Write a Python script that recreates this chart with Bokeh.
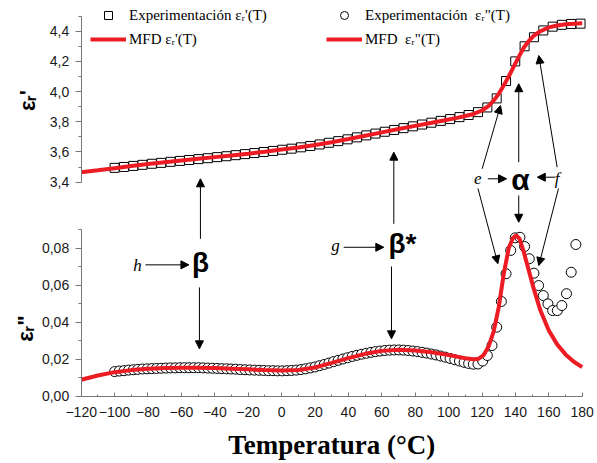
from math import pi
from bokeh.plotting import figure
from bokeh.models import (Range1d, LinearAxis, FixedTicker, SingleIntervalTicker,
                          Legend, LegendItem, Arrow, NormalHead, Label)
from bokeh.embed import file_html
from bokeh.resources import INLINE

# ---------------- data ----------------
# experimental eps' (squares)
temp_exp_real = [-100.0, -94.4, -88.8, -83.3, -77.7, -72.1, -66.5, -60.9, -55.4, -49.8,
                 -44.2, -38.6, -33.0, -27.5, -21.9, -16.3, -10.7, -5.1, 0.4, 6.0,
                 11.6, 17.2, 22.8, 28.3, 33.9, 39.5, 45.1, 50.7, 56.2, 61.8,
                 67.4, 73.0, 78.6, 84.1, 89.7, 95.3, 100.9, 106.5, 112.0, 117.6,
                 123.2, 128.8, 134.4, 139.9, 145.5, 151.1, 156.7, 162.3, 167.8, 173.4, 179.0]
eps_real_exp = [3.495, 3.501, 3.508, 3.515, 3.522, 3.528, 3.535, 3.541, 3.547, 3.553,
                3.559, 3.566, 3.572, 3.579, 3.586, 3.593, 3.600, 3.607, 3.615, 3.622,
                3.631, 3.640, 3.650, 3.661, 3.672, 3.684, 3.697, 3.710, 3.722, 3.734,
                3.746, 3.758, 3.770, 3.782, 3.794, 3.806, 3.818, 3.831, 3.845, 3.864,
                3.895, 3.955, 4.070, 4.200, 4.300, 4.360, 4.405, 4.430, 4.442, 4.448, 4.450]

# MFD fit eps'
temp_fit_real = [-120, -110, -100, -90, -80, -70, -60, -50, -40, -30, -20, -10, 0, 10, 20,
                 30, 40, 50, 60, 70, 80, 90, 100, 105, 110, 115, 120, 124, 127, 130,
                 133, 136, 139, 142, 145, 148, 151, 155, 160, 165, 170, 175, 180]
eps_real_fit = [3.466, 3.479, 3.493, 3.507, 3.520, 3.532, 3.544, 3.555, 3.566, 3.577, 3.589,
                3.602, 3.616, 3.630, 3.646, 3.665, 3.686, 3.708, 3.730, 3.752, 3.773, 3.794,
                3.815, 3.826, 3.838, 3.852, 3.875, 3.905, 3.940, 3.985, 4.040, 4.100, 4.165,
                4.230, 4.290, 4.335, 4.370, 4.400, 4.425, 4.438, 4.446, 4.450, 4.452]

# experimental eps'' (circles)
temp_exp_imag = [-100.0, -97.2, -94.4, -91.6, -88.8, -86.1, -83.3, -80.5, -77.7, -74.9,
                 -72.1, -69.3, -66.5, -63.7, -60.9, -58.2, -55.4, -52.6, -49.8, -47.0,
                 -44.2, -41.4, -38.6, -35.8, -33.0, -30.3, -27.5, -24.7, -21.9, -19.1,
                 -16.3, -13.5, -10.7, -7.9, -5.1, -2.4, 0.4, 3.2, 6.0, 8.8,
                 11.6, 14.4, 17.2, 20.0, 22.8, 25.6, 28.3, 31.1, 33.9, 36.7,
                 39.5, 42.3, 45.1, 47.9, 50.7, 53.5, 56.2, 59.0, 61.8, 64.6,
                 67.4, 70.2, 73.0, 75.8, 78.6, 81.4, 84.1, 86.9, 89.7, 92.5,
                 95.3, 98.1, 100.9, 103.7, 106.5, 109.3, 112.0, 114.8, 117.6, 120.4,
                 123.2, 126.0, 128.8, 131.6, 134.4, 137.2, 139.9, 142.7, 145.5, 148.3,
                 151.1, 153.9, 156.7, 159.5, 162.3, 165.1, 167.8, 170.6, 173.4, 176.2]
eps_imag_exp = [0.0133, 0.0136, 0.0138, 0.0141, 0.0143, 0.0145, 0.0147, 0.0148, 0.0149, 0.0150,
                0.0151, 0.0152, 0.0153, 0.0153, 0.0154, 0.0154, 0.0154, 0.0154, 0.0154, 0.0153,
                0.0152, 0.0151, 0.0150, 0.0149, 0.0148, 0.0147, 0.0146, 0.0144, 0.0143, 0.0142,
                0.0141, 0.0140, 0.0139, 0.0138, 0.0138, 0.0137, 0.0137, 0.0138, 0.0139, 0.0141,
                0.0144, 0.0148, 0.0153, 0.0158, 0.0165, 0.0172, 0.0179, 0.0187, 0.0194, 0.0201,
                0.0208, 0.0215, 0.0221, 0.0227, 0.0232, 0.0237, 0.0241, 0.0244, 0.0247, 0.0249,
                0.0250, 0.0250, 0.0249, 0.0247, 0.0244, 0.0241, 0.0237, 0.0233, 0.0228, 0.0223,
                0.0217, 0.0211, 0.0204, 0.0197, 0.0190, 0.0183, 0.0177, 0.0173, 0.0174, 0.0190,
                0.0220, 0.0274, 0.0373, 0.0512, 0.0662, 0.0788, 0.0856, 0.0859, 0.0809, 0.0743,
                0.0665, 0.0598, 0.0544, 0.0499, 0.0463, 0.0463, 0.0490, 0.0554, 0.0670, 0.0820]

# MFD fit eps''
temp_fit_imag = [-120, -110, -100, -90, -80, -70, -60, -50, -40, -30, -20, -10, 0, 10, 20,
                 30, 40, 50, 60, 70, 80, 90, 100, 105, 110, 115, 118, 121, 124, 127,
                 130, 133, 136, 138.5, 140.5, 142.5, 145, 148, 151, 155, 160, 165, 170, 175, 180]
eps_imag_fit = [0.0089, 0.0112, 0.0130, 0.0141, 0.0148, 0.0152, 0.0154, 0.0154, 0.0152, 0.0149,
                0.0145, 0.0141, 0.0139, 0.0142, 0.0155, 0.0180, 0.0206, 0.0229, 0.0245, 0.0251,
                0.0247, 0.0237, 0.0223, 0.0214, 0.0205, 0.0200, 0.0203, 0.0222, 0.0270, 0.0350,
                0.0480, 0.0660, 0.0800, 0.0855, 0.0869, 0.0850, 0.0780, 0.0680, 0.0580, 0.0463,
                0.0355, 0.0280, 0.0226, 0.0186, 0.0157]

# ticks
top_ticks = [3.4, 3.6, 3.8, 4.0, 4.2, 4.4]
top_minor = [3.5, 3.7, 3.9, 4.1, 4.3, 4.5]
top_labels = ["3,4", "3,6", "3,8", "4,0", "4,2", "4,4"]
bot_ticks = [0.0, 0.02, 0.04, 0.06, 0.08]
bot_minor = [0.01, 0.03, 0.05, 0.07, 0.09]
bot_labels = ["0,00", "0,02", "0,04", "0,06", "0,08"]

RED = "#ed1c24"
AX = "#777777"
TXT = "#1a1a1a"

# The frame covers the whole canvas; axes are drawn at fixed data locations inside it.
p = figure(width=597, height=463, title=None,
           x_range=Range1d(-168.32, 189.16), y_range=Range1d(-0.03638, 0.21389),
           output_backend="svg", toolbar_location=None,
           min_border_left=0, min_border_right=0, min_border_top=0, min_border_bottom=0)
p.extra_y_ranges = {"top": Range1d(1.5371, 4.6033)}
p.outline_line_color = None
p.grid.visible = False
p.background_fill_color = "white"
p.border_fill_color = "white"

# x axis
ax = p.xaxis[0]
ax.fixed_location = 0
ax.ticker = SingleIntervalTicker(interval=20, num_minor_ticks=2)
ax.bounds = (-120, 180)
ax.axis_line_color = AX
ax.major_tick_line_color = AX
ax.minor_tick_line_color = AX
ax.major_tick_in = 4
ax.major_tick_out = 0
ax.minor_tick_in = 2
ax.minor_tick_out = 0
ax.major_label_standoff = 11
ax.major_label_text_font = "Liberation Sans"
ax.major_label_text_font_size = "14px"
ax.major_label_text_color = TXT


def style_y(a):
    a.fixed_location = -120
    a.axis_line_color = AX
    a.major_tick_line_color = AX
    a.minor_tick_line_color = AX
    a.major_tick_out = 6
    a.major_tick_in = 0
    a.minor_tick_out = 3
    a.minor_tick_in = 0
    a.major_label_standoff = 6
    a.major_label_text_font = "Liberation Sans"
    a.major_label_text_font_size = "14px"
    a.major_label_text_color = TXT


ay = p.yaxis[0]
ay.ticker = FixedTicker(ticks=bot_ticks, minor_ticks=bot_minor)
ay.major_label_overrides = dict(zip(bot_ticks, bot_labels))
ay.bounds = (0, 0.09)
style_y(ay)

at = LinearAxis(y_range_name="top")
at.ticker = FixedTicker(ticks=top_ticks, minor_ticks=top_minor)
at.major_label_overrides = dict(zip(top_ticks, top_labels))
at.bounds = (3.4, 4.5)
style_y(at)
p.add_layout(at, "left")

# ---------------- glyphs ----------------
r_sq = p.scatter(temp_exp_real, eps_real_exp, y_range_name="top", marker="square", size=9,
                 fill_color="white", line_color="black", line_width=1)
r_l1 = p.line(temp_fit_real, eps_real_fit, y_range_name="top", line_color=RED, line_width=4)
r_ci = p.scatter(temp_exp_imag, eps_imag_exp, marker="circle", size=10,
                 fill_color="white", line_color="black", line_width=1)
r_l2 = p.line(temp_fit_imag, eps_imag_fit, line_color=RED, line_width=4)

# ---------------- legends ----------------
def make_legend(items, loc):
    lg = Legend(items=items, location=loc, orientation="vertical", glyph_width=36,
                glyph_height=20, label_height=20, spacing=4, padding=0, margin=0,
                label_standoff=3, background_fill_alpha=0, border_line_color=None,
                label_text_font="Liberation Serif", label_text_font_size="15px",
                label_text_color="black")
    p.add_layout(lg)


make_legend([LegendItem(label="Experimentación εᵣ'(T)", renderers=[r_sq]),
             LegendItem(label="MFD εᵣ'(T)", renderers=[r_l1])], (90, 414))
make_legend([LegendItem(label='Experimentación  εᵣ"(T)', renderers=[r_ci]),
             LegendItem(label='MFD  εᵣ"(T)', renderers=[r_l2])], (326, 414))

# ---------------- annotations ----------------
def arrow(x0, y0, x1, y1, rng="default"):
    p.add_layout(Arrow(end=NormalHead(size=8, fill_color="black", line_color="black", line_width=1),
                       x_start=x0, y_start=y0, x_end=x1, y_end=y1, line_width=1,
                       line_color="black", y_range_name=rng))


def label(x, y, text, rng="default", font="Liberation Sans", size="28px", style="bold", angle=0):
    p.add_layout(Label(x=x, y=y, text=text, y_range_name=rng, text_font=font,
                       text_font_size=size, text_font_style=style, text_align="center",
                       text_baseline="middle", text_color="black", angle=angle))


# arrows reaching the upper curve
arrow(-48.6, 3.025, -48.6, 3.4225, "top")
arrow(67.2, 3.1245, 67.2, 3.599, "top")
arrow(123.5, 3.4225, 134.7, 3.4225, "top")
arrow(164.0, 3.433, 153.1, 3.433, "top")
arrow(142.0, 3.5325, 142.0, 4.052, "top")
arrow(120.1, 3.489, 131.1, 3.908, "top")
arrow(165.0, 3.499, 154.0, 4.239, "top")
# arrows reaching the lower curve
arrow(-81.5, 0.071, -55.5, 0.071)
arrow(-49.2, 0.0588, -49.2, 0.0256)
arrow(37.2, 0.0805, 61.2, 0.0805)
arrow(65.8, 0.0701, 65.8, 0.0310)
arrow(142.0, 0.1085, 142.0, 0.0940)
arrow(117.6, 0.1123, 129.5, 0.0716)
arrow(165.8, 0.1123, 154.0, 0.0706)

label(-86.3, 0.0707, "h", font="Liberation Serif", size="17px", style="italic")
label(-48.5, 0.0723, "β")
label(32.3, 0.0815, "g", font="Liberation Serif", size="17px", style="italic")
label(72.4, 0.0825, "β*")
label(117.5, 3.4225, "e", "top", font="Liberation Serif", size="17px", style="italic")
label(143.1, 3.418, "α", "top", size="30px")
label(165.0, 3.4225, "f", "top", font="Liberation Serif", size="17px", style="italic")

# axis titles
label(-152.2, 3.941, "εᵣ'", "top", size="22px", angle=pi / 2)
label(-153.4, 0.0366, 'εᵣ"', size="22px", angle=pi / 2)
label(30, -0.0266, "Temperatura (°C)", font="Liberation Serif", size="27px")

open("out.html", "w").write(file_html(p, INLINE))
